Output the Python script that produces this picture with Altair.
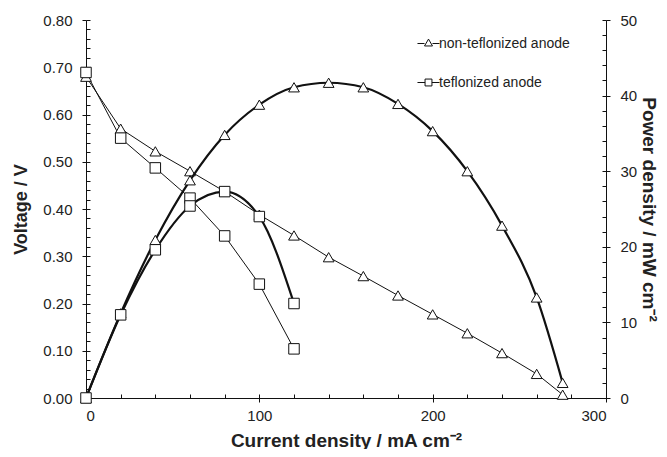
import altair as alt
import pandas as pd

# ---- data ----
series_names = ["non-teflonized anode", "teflonized anode"]

current_nt = [0, 20, 40, 60, 80, 100, 120, 140, 160, 180, 200, 220, 240, 260, 275]
voltage_nt = [0.680, 0.570, 0.522, 0.480, 0.437, 0.388, 0.344, 0.298, 0.258, 0.217,
              0.177, 0.137, 0.095, 0.051, 0.007]
power_nt = [0.0, 11.2, 20.9, 28.8, 34.8, 38.8, 41.1, 41.7, 41.1, 38.9, 35.3, 30.0,
            22.8, 13.3, 2.0]

current_t = [0, 20, 40, 60, 80, 100, 120]
voltage_t = [0.689, 0.550, 0.487, 0.423, 0.343, 0.241, 0.104]
power_t = [0.0, 11.0, 19.6, 25.4, 27.3, 24.0, 12.5]

x_tick_values = [i * 20 for i in range(16)]
v_tick_values = [round(i * 0.02, 2) for i in range(41)]
p_tick_values = [i * 2 for i in range(26)]

x_title = "Current density / mA cm⁻²"
v_title = "Voltage / V"
p_title = "Power density / mW cm⁻²"

# ---- tables ----
df_nt = pd.DataFrame({"current": current_nt, "voltage": voltage_nt, "power": power_nt,
                      "series": series_names[0]})
df_t = pd.DataFrame({"current": current_t, "voltage": voltage_t, "power": power_t,
                     "series": series_names[1]})
df = pd.concat([df_nt, df_t], ignore_index=True)
legend_df = pd.DataFrame({"series": series_names, "current": [-80, -80],
                          "voltage": [0.5, 0.5]})

FONT = "Liberation Sans"
TXT = "#222222"
INK = "#111111"
PLOT_W, PLOT_H = 520, 378

common_axis = dict(
    labelFont=FONT, labelFontSize=15, labelColor=TXT,
    titleFont=FONT, titleFontWeight="bold", titleColor=TXT,
    domainColor=INK, domainWidth=1, tickColor=INK, tickWidth=1, tickSize=4,
    grid=True, gridColor=INK, gridWidth=1, gridOpacity=1,
    labelOverlap=False,
)

# the grid is used as short inward ticks: only its first / last 4px are drawn
x_axis = alt.Axis(
    values=x_tick_values, title=x_title, format="d",
    labelExpr="datum.value % 100 == 0 ? datum.label : ''",
    tickOpacity={"condition": {"test": "datum.value % 100 == 0", "value": 1}, "value": 0},
    labelPadding=6, titlePadding=8, titleFontSize=19,
    gridDash=[4, PLOT_H - 4], gridDashOffset=4,
    **common_axis)

v_axis = alt.Axis(
    values=v_tick_values, title=v_title, format=".2f", orient="left",
    labelExpr="abs(datum.value*10 - round(datum.value*10)) < 1e-6 ? datum.label : ''",
    tickOpacity={"condition": {"test": "abs(datum.value*10 - round(datum.value*10)) < 1e-6",
                               "value": 1}, "value": 0},
    labelPadding=10, titlePadding=12, titleFontSize=18, gridDash=[4, 3000],
    **common_axis)

p_axis = alt.Axis(
    values=p_tick_values, title=p_title, format="d", orient="right",
    labelExpr="datum.value % 10 == 0 ? datum.label : ''",
    tickOpacity={"condition": {"test": "datum.value % 10 == 0", "value": 1}, "value": 0},
    labelPadding=10, titlePadding=2, titleFontSize=19, gridDash=[4, 3000],
    **common_axis)

x_enc = alt.X("current:Q", scale=alt.Scale(domain=[0, 300], nice=False, zero=False),
              axis=x_axis)
v_enc = alt.Y("voltage:Q", scale=alt.Scale(domain=[0, 0.8], nice=False), axis=v_axis)
p_enc = alt.Y("power:Q", scale=alt.Scale(domain=[0, 50], nice=False), axis=p_axis)

base = alt.Chart(df)

# voltage (thin, straight segments)
v_lines = base.mark_line(color=INK, strokeWidth=1).encode(
    x=x_enc, y=v_enc, detail="series:N", order="current:Q")
v_tri = base.transform_filter(alt.datum.series == series_names[0]).mark_point(
    shape="triangle-up", filled=True, fill="white", stroke=INK, strokeWidth=1,
    size=115, opacity=1).encode(x=x_enc, y=v_enc)
v_sq = base.transform_filter(alt.datum.series == series_names[1]).mark_point(
    shape="square", filled=True, fill="white", stroke=INK, strokeWidth=1,
    size=110, opacity=1).encode(x=x_enc, y=v_enc)

# legend only layer (marks sit outside the domain and are clipped away)
legend_layer = alt.Chart(legend_df).mark_point(
    filled=False, color=INK, strokeWidth=1, opacity=1, size=190, clip=True
).encode(
    x=x_enc, y=v_enc,
    shape=alt.Shape("series:N", scale=alt.Scale(
        domain=series_names,
        range=["M-1.6,0H-0.58M0.58,0H1.6M-0.58,0.36L0,-0.64L0.58,0.36Z",
               "M-1.6,0H-0.5M0.5,0H1.6M-0.5,-0.5H0.5V0.5H-0.5Z"]),
        legend=alt.Legend(title=None, orient="none", legendX=335, legendY=16,
                          labelFont=FONT, labelFontSize=14, labelColor=TXT,
                          symbolOpacity=1, symbolStrokeColor=INK, symbolStrokeWidth=1,
                          symbolSize=190, rowPadding=24, labelOffset=3, padding=0)))

volt = alt.layer(v_lines, v_tri, v_sq, legend_layer)

# power (thick, smooth)
p_lines = base.mark_line(color=INK, strokeWidth=2.2, interpolate="monotone").encode(
    x=x_enc, y=p_enc, detail="series:N", order="current:Q")
p_tri = base.transform_filter(alt.datum.series == series_names[0]).mark_point(
    shape="triangle-up", filled=True, fill="white", stroke=INK, strokeWidth=1,
    size=115, opacity=1).encode(x=x_enc, y=p_enc)
p_sq = base.transform_filter(alt.datum.series == series_names[1]).mark_point(
    shape="square", filled=True, fill="white", stroke=INK, strokeWidth=1,
    size=110, opacity=1).encode(x=x_enc, y=p_enc)

power = alt.layer(p_lines, p_tri, p_sq)

chart = alt.layer(volt, power).resolve_scale(y="independent", shape="independent").properties(
    width=PLOT_W, height=PLOT_H,
    autosize=alt.AutoSizeParams(type="none"),
    padding={"left": 78, "top": 12, "right": 53, "bottom": 51},
    background="white",
).configure_view(stroke=None)

chart.save("out.html", embed_options={"renderer": "svg", "actions": False})
